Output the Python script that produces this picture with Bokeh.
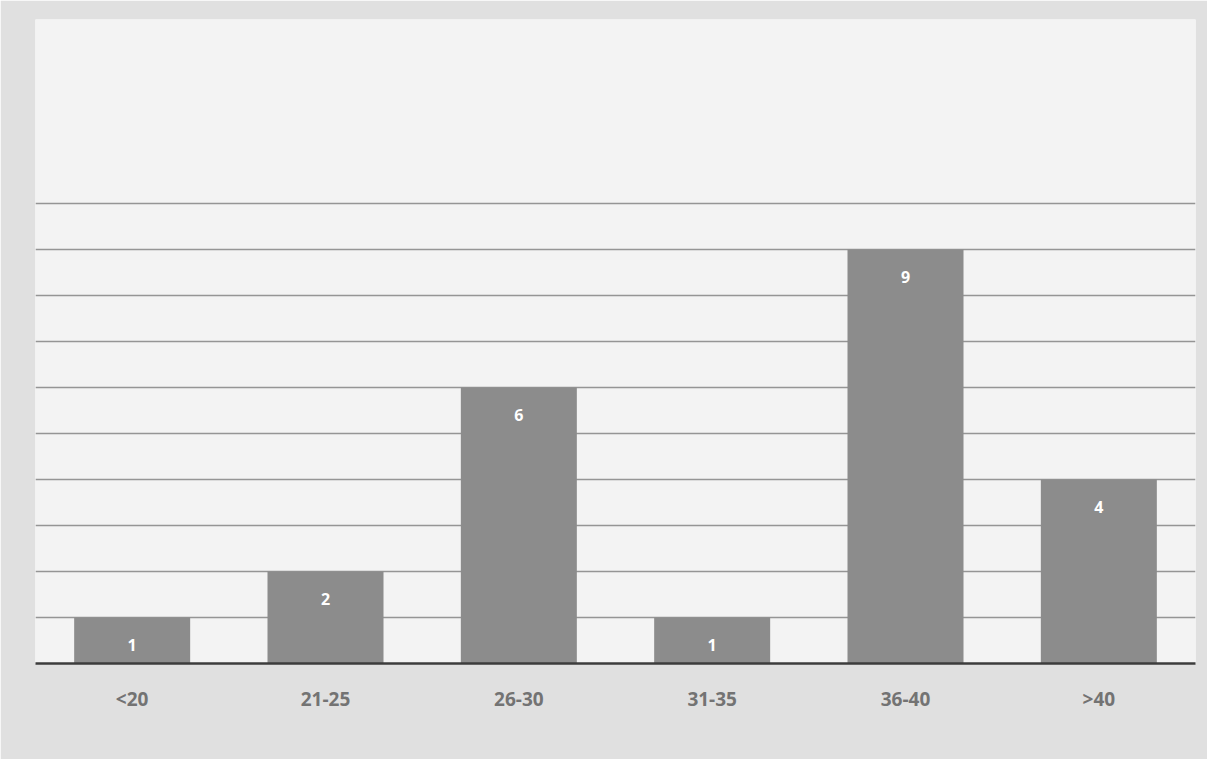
from bokeh.plotting import figure
from bokeh.models import ColumnDataSource, LabelSet, FixedTicker, Range1d
from bokeh.core.properties import value
from bokeh.embed import file_html
from bokeh.resources import INLINE

categories = ["<20", "21-25", "26-30", "31-35", "36-40", ">40"]
counts = [1, 2, 6, 1, 9, 4]
grid_ticks = [0, 1, 2, 3, 4, 5, 6, 7, 8, 9, 10]

src = ColumnDataSource(data=dict(cat=categories, n=counts, lbl=[str(c) for c in counts]))

p = figure(x_range=categories, y_range=Range1d(0, 14), width=1207, height=759,
           output_backend="svg", toolbar_location=None,
           min_border_left=35, min_border_right=12, min_border_top=19, min_border_bottom=96)

p.background_fill_color = "#f3f3f3"
p.border_fill_color = "#e0e0e0"
p.outline_line_color = None

p.vbar(x="cat", top="n", width=0.6, source=src, fill_color="#8c8c8c", line_color=None)

labels = LabelSet(x="cat", y="n", text="lbl", source=src, y_offset=-27,
                  text_align="center", text_baseline="middle",
                  text_color="white", text_font_size="16px", text_font=value("Open Sans"),
                  text_font_style="bold")
p.add_layout(labels)

p.yaxis.visible = False
p.yaxis.ticker = FixedTicker(ticks=grid_ticks)
p.ygrid.ticker = FixedTicker(ticks=grid_ticks)
p.ygrid.grid_line_color = "#959595"
p.ygrid.grid_line_width = 1.5
p.xgrid.grid_line_color = None

p.xaxis.axis_line_color = "#3c3c3c"
p.xaxis.axis_line_width = 2.5
p.xaxis.major_tick_line_color = None
p.xaxis.minor_tick_line_color = None
p.xaxis.major_label_standoff = 16
p.xaxis.major_label_text_font = "Open Sans"
p.xaxis.major_label_text_font_size = "19px"
p.xaxis.major_label_text_font_style = "bold"
p.xaxis.major_label_text_color = "#737373"

open("out.html", "w").write(file_html(p, INLINE))
